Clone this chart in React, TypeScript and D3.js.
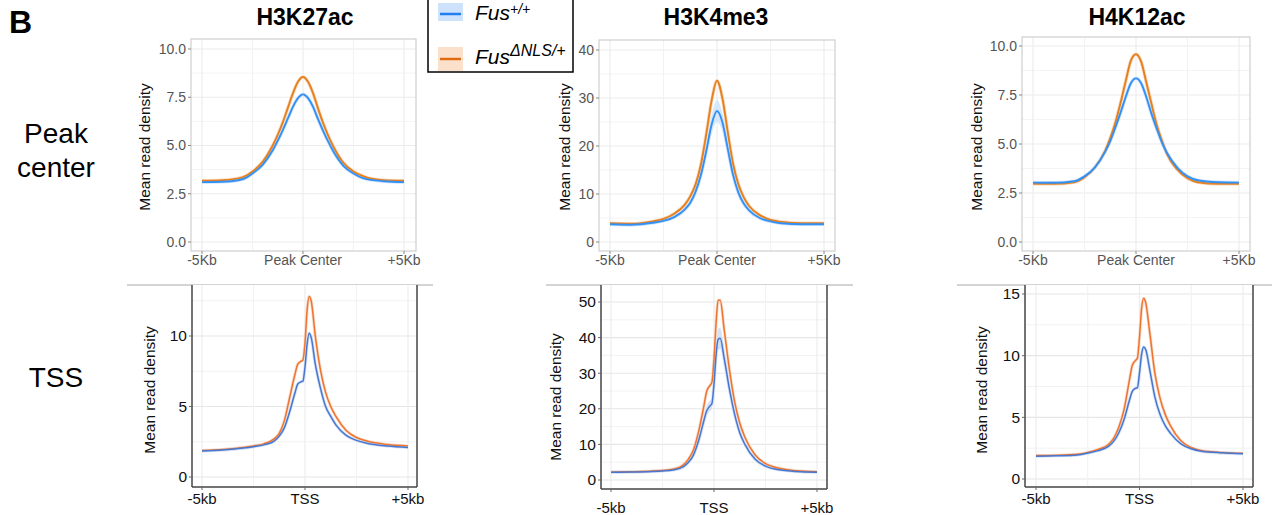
import * as d3 from 'd3';

// positions (kb) of the profile samples
const PEAK_X = [-5, -4, -3, -2.5, -2, -1.5, -1.25, -1, -0.75, -0.5, -0.25, 0, 0.25, 0.5, 0.75, 1, 1.25, 1.5, 2, 2.5, 3, 4, 5];
const TSS_X = [-5, -4, -3, -2.5, -2, -1.5, -1.25, -1, -0.75, -0.5, -0.35, -0.2, -0.1, 0, 0.1, 0.2, 0.3, 0.5, 0.75, 1, 1.25, 1.5, 2, 2.5, 3, 4, 5];

// peak center row
const k27PeakWt = [3.1, 3.12, 3.25, 3.55, 4.0, 4.75, 5.25, 5.8, 6.4, 7.0, 7.45, 7.65, 7.45, 7.0, 6.35, 5.75, 5.2, 4.7, 3.95, 3.55, 3.3, 3.15, 3.1];
const k27PeakMut = [3.17, 3.2, 3.35, 3.65, 4.15, 5.0, 5.55, 6.2, 6.95, 7.7, 8.3, 8.55, 8.3, 7.7, 6.9, 6.15, 5.5, 4.95, 4.1, 3.65, 3.4, 3.2, 3.17];
const k4PeakWt = [3.7, 3.6, 4.0, 4.4, 5.2, 6.8, 8.2, 10.5, 14.0, 19.0, 24.5, 27.3, 25.0, 19.5, 14.0, 10.3, 8.0, 6.6, 5.0, 4.3, 3.9, 3.7, 3.7];
const k4PeakWtSE = [0.3, 0.3, 0.3, 0.3, 0.4, 0.5, 0.6, 0.8, 1.0, 1.5, 2.0, 2.3, 2.0, 1.5, 1.0, 0.8, 0.6, 0.5, 0.4, 0.3, 0.3, 0.3, 0.3];
const k4PeakMut = [3.9, 3.8, 4.3, 4.8, 5.9, 7.8, 9.5, 12.0, 16.2, 22.5, 29.5, 33.6, 30.0, 23.0, 16.3, 12.0, 9.3, 7.5, 5.6, 4.6, 4.2, 3.9, 3.9];
const k12PeakWt = [3.03, 3.02, 3.1, 3.35, 3.8, 4.6, 5.15, 5.85, 6.6, 7.4, 8.1, 8.35, 8.1, 7.4, 6.55, 5.8, 5.1, 4.55, 3.8, 3.35, 3.15, 3.05, 3.03];
const k12PeakMut = [2.97, 2.97, 3.05, 3.3, 3.8, 4.65, 5.3, 6.1, 7.1, 8.2, 9.25, 9.58, 9.2, 8.15, 7.05, 6.0, 5.2, 4.5, 3.7, 3.25, 3.05, 2.97, 2.97];

// TSS row
const k27TssWt = [1.85, 1.92, 2.05, 2.15, 2.28, 2.55, 2.9, 3.5, 4.6, 5.9, 6.6, 6.75, 6.8, 7.8, 9.4, 10.2, 9.9, 8.0, 6.3, 5.0, 4.3, 3.7, 2.95, 2.6, 2.4, 2.2, 2.1];
const k27TssMut = [1.88, 1.95, 2.1, 2.2, 2.35, 2.7, 3.1, 4.0, 5.6, 7.2, 8.0, 8.2, 8.3, 9.5, 11.8, 12.8, 12.5, 10.0, 7.6, 6.0, 5.0, 4.3, 3.3, 2.8, 2.55, 2.3, 2.2];
const k4TssWt = [2.2, 2.25, 2.4, 2.55, 2.8, 3.7, 4.9, 7.0, 11.0, 16.5, 19.5, 20.8, 21.5, 27, 35, 39.5, 39.8, 34, 25.5, 18.5, 13.3, 10.0, 5.8, 3.9, 3.0, 2.4, 2.2];
const k4TssWtSE = [0.2, 0.2, 0.2, 0.2, 0.3, 0.4, 0.5, 0.7, 1.0, 1.3, 1.5, 1.5, 1.5, 2.0, 2.8, 3.0, 3.0, 2.5, 1.8, 1.2, 0.9, 0.7, 0.4, 0.3, 0.2, 0.2, 0.2];
const k4TssMut = [2.2, 2.3, 2.5, 2.7, 3.0, 4.2, 5.8, 8.4, 13.5, 20.5, 25.0, 26.5, 27.5, 34, 44, 50.5, 50.5, 42.0, 31, 22, 16.0, 12.0, 7.0, 4.6, 3.5, 2.6, 2.3];
const k12TssWt = [1.85, 1.88, 1.95, 2.1, 2.3, 2.65, 3.05, 3.75, 4.8, 6.3, 7.1, 7.35, 7.4, 8.6, 10.1, 10.7, 10.5, 8.8, 6.6, 5.2, 4.3, 3.7, 2.85, 2.45, 2.25, 2.12, 2.05];
const k12TssMut = [1.9, 1.92, 2.0, 2.15, 2.4, 2.8, 3.3, 4.2, 5.6, 7.9, 9.2, 9.6, 9.8, 11.5, 13.8, 14.65, 14.3, 11.8, 8.5, 6.5, 5.2, 4.3, 3.1, 2.55, 2.3, 2.15, 2.08];

const marks = ['H3K27ac', 'H3K4me3', 'H4K12ac'];
const peakTickLabels = ['-5Kb', 'Peak Center', '+5Kb'];
const tssTickLabels = ['-5kb', 'TSS', '+5kb'];
const peakYTicks = [[0, 2.5, 5, 7.5, 10], [0, 10, 20, 30, 40], [0, 2.5, 5, 7.5, 10]];
const tssYTicks = [[0, 5, 10], [0, 10, 20, 30, 40, 50], [0, 5, 10, 15]];

const FONT = 'Liberation Sans, Arial, Helvetica, sans-serif';

const TOP = { blue: '#3390f4', orange: '#e6801f', blueBand: '#d2e5fb', orangeBand: '#f8dcc2' };
const BOT = { blue: '#4777d0', orange: '#ee7430', blueBand: '#d3e0f4', orangeBand: '#f8dccb' };

type PanelProps = {
  xs: number[];
  wt: number[];
  mut: number[];
  wtSE?: number[];
  box: [number, number, number, number]; // left, top, right, bottom
  xRange: [number, number];
  yDomain: [number, number];
  yRange: [number, number];
  yTicks: number[];
  decimals: boolean;
  labels: string[];
  kind: 'top' | 'bottom';
  titlePos: [number, number];
  labelY: number;
};

function Panel(p: PanelProps) {
  const [l, t, r, b] = p.box;
  const x = d3.scaleLinear().domain([-5, 5]).range(p.xRange);
  const y = d3.scaleLinear().domain(p.yDomain).range(p.yRange);
  const top = p.kind === 'top';
  const col = top ? TOP : BOT;
  const step = p.yTicks[1] - p.yTicks[0];
  const yLo = y.invert(b);
  const yHi = y.invert(t);
  const majors = d3.range(Math.ceil(yLo / step) * step, yHi + 1e-9, step);
  const minors = d3.range(Math.ceil((yLo - step / 2) / step) * step + step / 2, yHi, step);
  const fmt = p.decimals ? d3.format('.1f') : d3.format('d');

  const line = d3.line<number>().x((_, i) => x(p.xs[i])).y(v => y(v)).curve(d3.curveMonotoneX);
  const band = d3.area<number>()
    .x((_, i) => x(p.xs[i]))
    .y0((v, i) => y(v - (p.wtSE ? p.wtSE[i] : 0)))
    .y1((v, i) => y(v + (p.wtSE ? p.wtSE[i] : 0)))
    .curve(d3.curveMonotoneX);

  const lw = top ? 1.9 : 1.5;
  const tickCol = top ? '#555' : '#111';

  return (
    <g>
      <rect x={l} y={t} width={r - l} height={b - t} fill="#fff" />
      {minors.map(v => (
        <line key={'mn' + v} x1={l} x2={r} y1={y(v)} y2={y(v)} stroke={top ? '#f4f4f4' : '#f2f2f2'} strokeWidth={1} />
      ))}
      {majors.map(v => (
        <line key={'mj' + v} x1={l} x2={r} y1={y(v)} y2={y(v)} stroke={top ? '#ebebeb' : '#e6e6e6'} strokeWidth={1.1} />
      ))}
      {[-5, -2.5, 0, 2.5, 5].map(v => (
        <line key={'vx' + v} x1={x(v)} x2={x(v)} y1={t} y2={b} stroke={v % 5 === 0 ? '#ebebeb' : '#f2f2f2'} strokeWidth={1.1} />
      ))}
      {p.wtSE && <path d={band(p.wt) || ''} fill={col.blueBand} opacity={0.9} />}
      <path d={line(p.mut) || ''} fill="none" stroke={col.orangeBand} strokeWidth={lw + 1.6} strokeLinejoin="round" />
      <path d={line(p.wt) || ''} fill="none" stroke={col.blueBand} strokeWidth={lw + 1.6} strokeLinejoin="round" />
      <path d={line(p.mut) || ''} fill="none" stroke={col.orange} strokeWidth={lw} strokeLinejoin="round" />
      <path d={line(p.wt) || ''} fill="none" stroke={col.blue} strokeWidth={lw} strokeLinejoin="round" />
      {top ? (
        <rect x={l} y={t} width={r - l} height={b - t} fill="none" stroke="#cfcfcf" strokeWidth={1.2} />
      ) : (
        <g>
          <line x1={l} x2={l} y1={t} y2={b} stroke="#444" strokeWidth={1.5} />
          <line x1={l} x2={r} y1={b} y2={b} stroke="#444" strokeWidth={1.5} />
          <line x1={r} x2={r} y1={t} y2={b} stroke="#444" strokeWidth={1.5} />
        </g>
      )}
      {p.yTicks.map(v => (
        <g key={'yt' + v}>
          <line x1={l - 3} x2={l} y1={y(v)} y2={y(v)} stroke={top ? '#888' : '#666'} strokeWidth={1} />
          <text x={l - 5} y={y(v)} dy="0.35em" textAnchor="end" fontSize={top ? 14 : 15.5} fill={tickCol} fontFamily={FONT}>
            {fmt(v)}
          </text>
        </g>
      ))}
      {[-5, 0, 5].map((v, i) => (
        <g key={'xt' + v}>
          <line x1={x(v)} x2={x(v)} y1={b} y2={b + 3} stroke={top ? '#888' : '#666'} strokeWidth={1} />
          <text x={x(v)} y={p.labelY} textAnchor="middle" fontSize={top ? 14 : 15} fill={tickCol} fontFamily={FONT}>
            {p.labels[i]}
          </text>
        </g>
      ))}
      <text
        transform={`translate(${p.titlePos[0]},${p.titlePos[1]}) rotate(-90)`}
        textAnchor="middle"
        fontSize={15.5}
        fill="#111"
        fontFamily={FONT}
      >
        Mean read density
      </text>
    </g>
  );
}

export default function App() {
  const topBoxes: [number, number, number, number][] = [[191, 39, 416, 251], [599, 40, 835, 251], [1022, 37, 1250, 251]];
  const topX: [number, number][] = [[202, 404], [610, 824], [1033, 1239]];
  const topY: [number, number][] = [[242, 49], [242, 50], [242, 46]];
  const topDom: [number, number][] = [[0, 10], [0, 40], [0, 10]];
  const topTitle: [number, number][] = [[150, 147], [570, 147], [982, 147]];

  const botBoxes: [number, number, number, number][] = [[192, 285, 417, 487], [601, 285, 827, 489], [1025, 285, 1253, 487]];
  const botX: [number, number][] = [[202, 408], [611, 817], [1036, 1243]];
  const botY: [number, number][] = [[477, 336], [480, 302], [479, 294]];
  const botDom: [number, number][] = [[0, 10], [0, 50], [0, 15]];
  const botTitle: [number, number][] = [[155, 390], [561, 397], [987, 390]];
  const botLabelY = [504, 513, 504];

  const peakWt = [k27PeakWt, k4PeakWt, k12PeakWt];
  const peakMut = [k27PeakMut, k4PeakMut, k12PeakMut];
  const tssWt = [k27TssWt, k4TssWt, k12TssWt];
  const tssMut = [k27TssMut, k4TssMut, k12TssMut];
  const titleX = [305, 716, 1137];

  return (
    <svg width={1276} height={515} style={{ position: 'absolute', left: 0, top: 0, background: '#fff' }} fontFamily={FONT}>
      <rect width={1276} height={515} fill="#fff" />
      <text x={9} y={33} fontSize={32} fontWeight="bold" fill="#000">B</text>
      {marks.map((m, i) => (
        <text key={m} x={titleX[i]} y={25} textAnchor="middle" fontSize={23} fontWeight="bold" fill="#000">{m}</text>
      ))}
      <text x={56} y={143} textAnchor="middle" fontSize={28} fill="#000">Peak</text>
      <text x={56} y={177} textAnchor="middle" fontSize={28} fill="#000">center</text>
      <text x={56} y={387} textAnchor="middle" fontSize={28} fill="#000">TSS</text>

      {[[127, 433], [546, 853], [957, 1272]].map(([a, c]) => (
        <line key={'sep' + a} x1={a} x2={c} y1={285} y2={285} stroke="#aaa" strokeWidth={1.2} />
      ))}

      {marks.map((m, i) => (
        <Panel
          key={'top' + m}
          xs={PEAK_X}
          wt={peakWt[i]}
          mut={peakMut[i]}
          wtSE={i === 1 ? k4PeakWtSE : undefined}
          box={topBoxes[i]}
          xRange={topX[i]}
          yDomain={topDom[i]}
          yRange={topY[i]}
          yTicks={peakYTicks[i]}
          decimals={i !== 1}
          labels={peakTickLabels}
          kind="top"
          titlePos={topTitle[i]}
          labelY={265}
        />
      ))}
      {marks.map((m, i) => (
        <Panel
          key={'bot' + m}
          xs={TSS_X}
          wt={tssWt[i]}
          mut={tssMut[i]}
          wtSE={i === 1 ? k4TssWtSE : undefined}
          box={botBoxes[i]}
          xRange={botX[i]}
          yDomain={botDom[i]}
          yRange={botY[i]}
          yTicks={tssYTicks[i]}
          decimals={false}
          labels={tssTickLabels}
          kind="bottom"
          titlePos={botTitle[i]}
          labelY={botLabelY[i]}
        />
      ))}

      {/* legend */}
      <g>
        <rect x={428} y={-2} width={145} height={74} fill="#fff" stroke="#000" strokeWidth={1.5} />
        <rect x={438} y={3} width={25} height={18} fill="#cfe2fb" />
        <line x1={440} x2={461} y1={14} y2={14} stroke="#1f7ef0" strokeWidth={2.5} />
        <rect x={438} y={47} width={25} height={24} fill="#fbe1cb" />
        <line x1={440} x2={461} y1={59} y2={59} stroke="#e06a12" strokeWidth={2.5} />
        <text x={475} y={20} fontSize={21} fontStyle="italic" fill="#000">
          Fus<tspan dy={-6} fontSize={14}>+/+</tspan>
        </text>
        <text x={475} y={64} fontSize={21} fontStyle="italic" fill="#000">
          Fus<tspan dy={-8} fontSize={16}>ΔNLS/+</tspan>
        </text>
      </g>
    </svg>
  );
}
